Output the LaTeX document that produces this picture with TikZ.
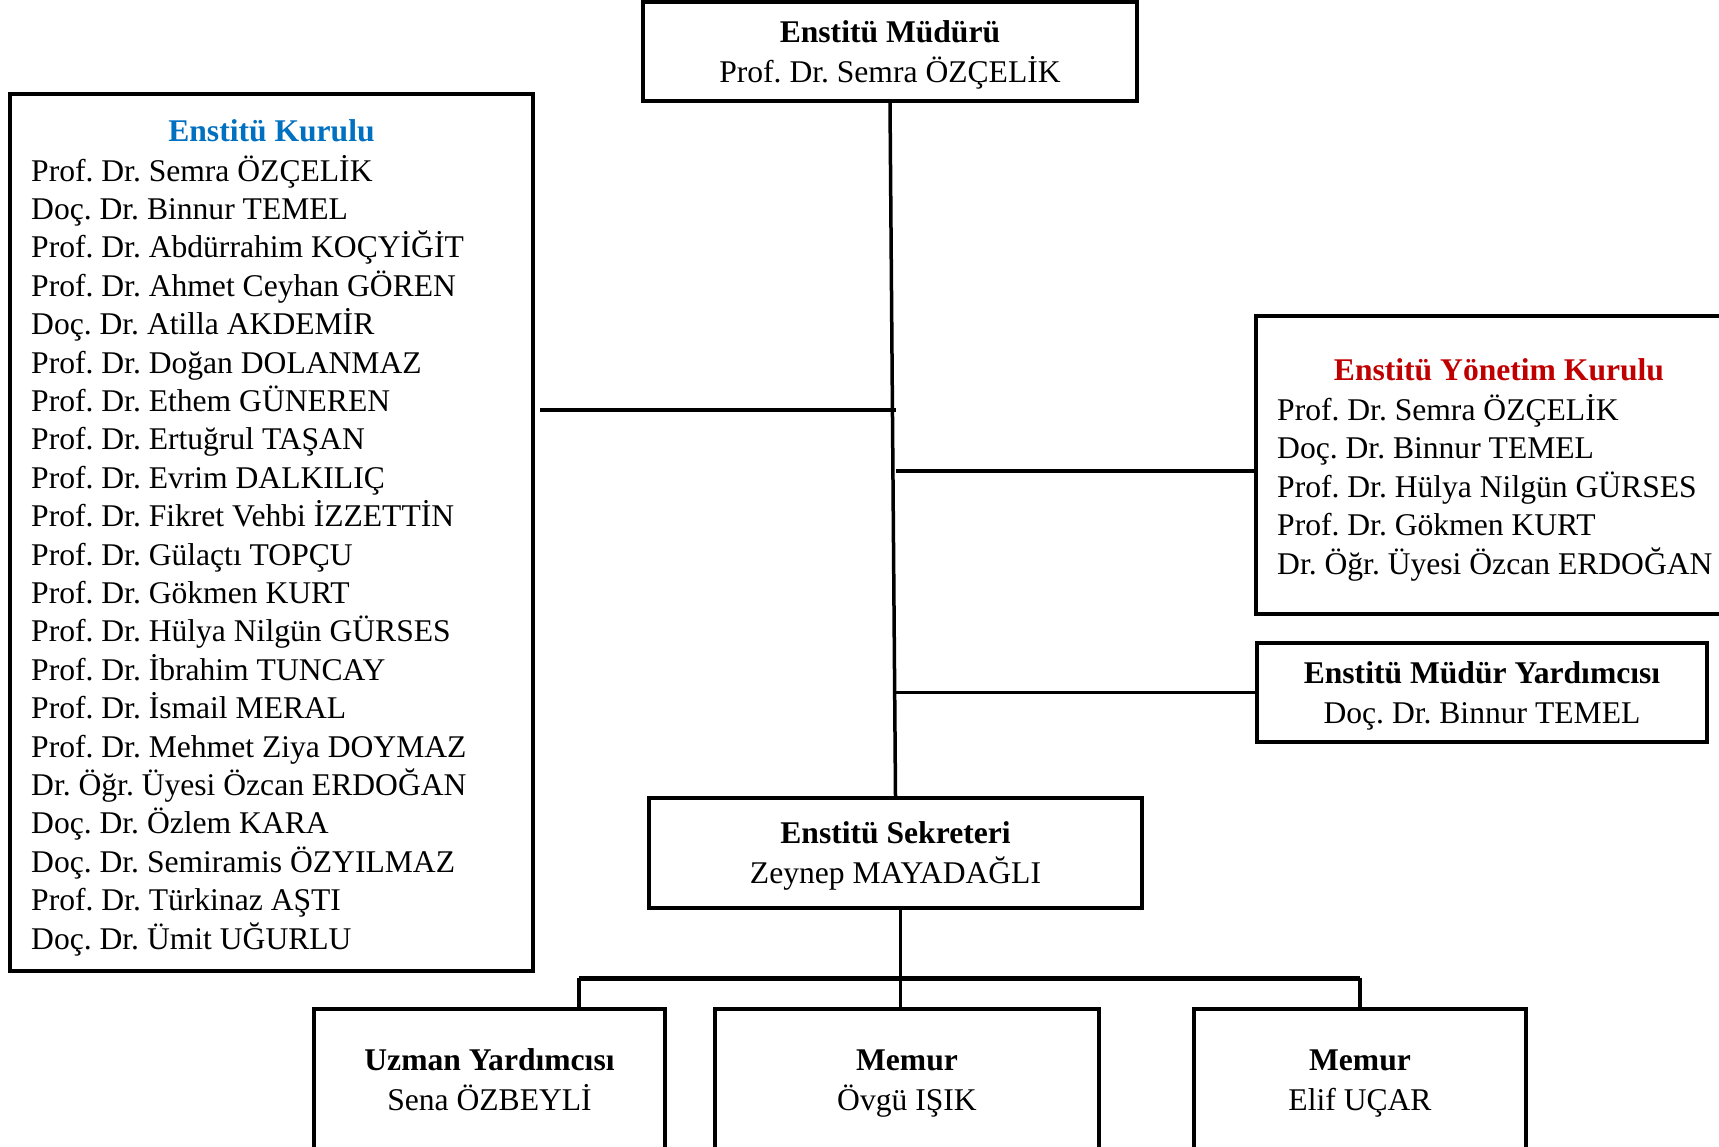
\documentclass[tikz,border=0pt]{standalone}
\usepackage{fontspec}
\setmainfont{Liberation Serif}
\usetikzlibrary{positioning}
\definecolor{kurulublue}{RGB}{0,112,192}
\definecolor{yonetimred}{RGB}{192,0,0}
\frenchspacing
\tikzset{every node/.style={font=\fontsize{31.6}{38.4}\selectfont}}
\tikzset{unit/.style={draw,line width=4pt,inner sep=0pt,align=center,text depth=0pt,
    font=\fontsize{31.6}{40}\selectfont}}

\begin{document}
\begin{tikzpicture}[x=1pt,y=-1pt,link/.style={line width=3.5pt}]
        \useasboundingbox (0,0) rectangle (1719,1146);
        \node[unit,minimum width=494,minimum height=99] (mudur) at (890,51.5)
                {\textbf{Enstitü Müdürü}\\Prof. Dr. Semra ÖZÇELİK};
        \node[unit,minimum width=523,minimum height=877] (kurulu) at (271.5,532.5) {};
        \node[anchor=base,text=kurulublue,font=\fontsize{31.6}{38.4}\selectfont\bfseries]
                (kurulutitle) at (271.5,141) {Enstitü Kurulu};
        \node[anchor=base west,align=left,inner sep=0pt] (kurululist) at (31,949)
                {Prof. Dr. Semra ÖZÇELİK\\
                 Doç. Dr. Binnur TEMEL\\
                 Prof. Dr. Abdürrahim KOÇYİĞİT\\
                 Prof. Dr. Ahmet Ceyhan GÖREN\\
                 Doç. Dr. Atilla AKDEMİR\\
                 Prof. Dr. Doğan DOLANMAZ\\
                 Prof. Dr. Ethem GÜNEREN\\
                 Prof. Dr. Ertuğrul TAŞAN\\
                 Prof. Dr. Evrim DALKILIÇ\\
                 Prof. Dr. Fikret Vehbi İZZETTİN\\
                 Prof. Dr. Gülaçtı TOPÇU\\
                 Prof. Dr. Gökmen KURT\\
                 Prof. Dr. Hülya Nilgün GÜRSES\\
                 Prof. Dr. İbrahim TUNCAY\\
                 Prof. Dr. İsmail MERAL\\
                 Prof. Dr. Mehmet Ziya DOYMAZ\\
                 Dr. Öğr. Üyesi Özcan ERDOĞAN\\
                 Doç. Dr. Özlem KARA\\
                 Doç. Dr. Semiramis ÖZYILMAZ\\
                 Prof. Dr. Türkinaz AŞTI\\
                 Doç. Dr. Ümit UĞURLU};
        \node[unit,minimum width=486,minimum height=298] (yonetim) at (1499,465) {};
        \node[anchor=base,text=yonetimred,font=\fontsize{31.6}{38.4}\selectfont\bfseries]
                (yonetimtitle) at (1499,380) {Enstitü Yönetim Kurulu};
        \node[anchor=base west,align=left,inner sep=0pt] (yonetimlist) at (1277,574)
                {Prof. Dr. Semra ÖZÇELİK\\
                 Doç. Dr. Binnur TEMEL\\
                 Prof. Dr. Hülya Nilgün GÜRSES\\
                 Prof. Dr. Gökmen KURT\\
                 Dr. Öğr. Üyesi Özcan ERDOĞAN};
        \node[unit,minimum width=450,minimum height=99] (yardimci) at (1482,692.5)
                {\textbf{Enstitü Müdür Yardımcısı}\\Doç. Dr. Binnur TEMEL};
        \node[unit,minimum width=493,minimum height=110] (sekreter) at (895.5,853)
                {\textbf{Enstitü Sekreteri}\\Zeynep MAYADAĞLI};
        \node[unit,minimum width=351,minimum height=142] (uzman) at (489.5,1080)
                {\textbf{Uzman Yardımcısı}\\Sena ÖZBEYLİ};
        \node[unit,minimum width=384,minimum height=142] (ovgu) at (907,1080)
                {\textbf{Memur}\\Övgü IŞIK};
        \node[unit,minimum width=332,minimum height=142] (elif) at (1360,1080)
                {\textbf{Memur}\\Elif UÇAR};
        \coordinate (kurulujoin) at (540,410);
        \coordinate (yonetimjoin) at ([yshift=-6pt]yonetim.west);
        \coordinate (sekreterjoin) at ([xshift=5pt]sekreter.south);
        \coordinate (barleft) at (579,978);
        \coordinate (barright) at (1360,978);
        \draw[link] (mudur.south) -- (sekreter.north);
        \draw[link] (kurulujoin) -- (kurulujoin -| sekreter.north);
        \draw[link] (yonetimjoin) -- (yonetimjoin -| sekreter.north);
        \draw[link] (yardimci.west) -- (yardimci.west -| sekreter.north);
        \draw[link] (sekreterjoin) -- (sekreterjoin |- ovgu.north);
        \draw[line width=5pt] (barleft) -- (barright);
        \draw[link] (barleft) -- (barleft |- uzman.north);
        \draw[link] (barright) -- (barright |- elif.north);
\end{tikzpicture}
\end{document}
